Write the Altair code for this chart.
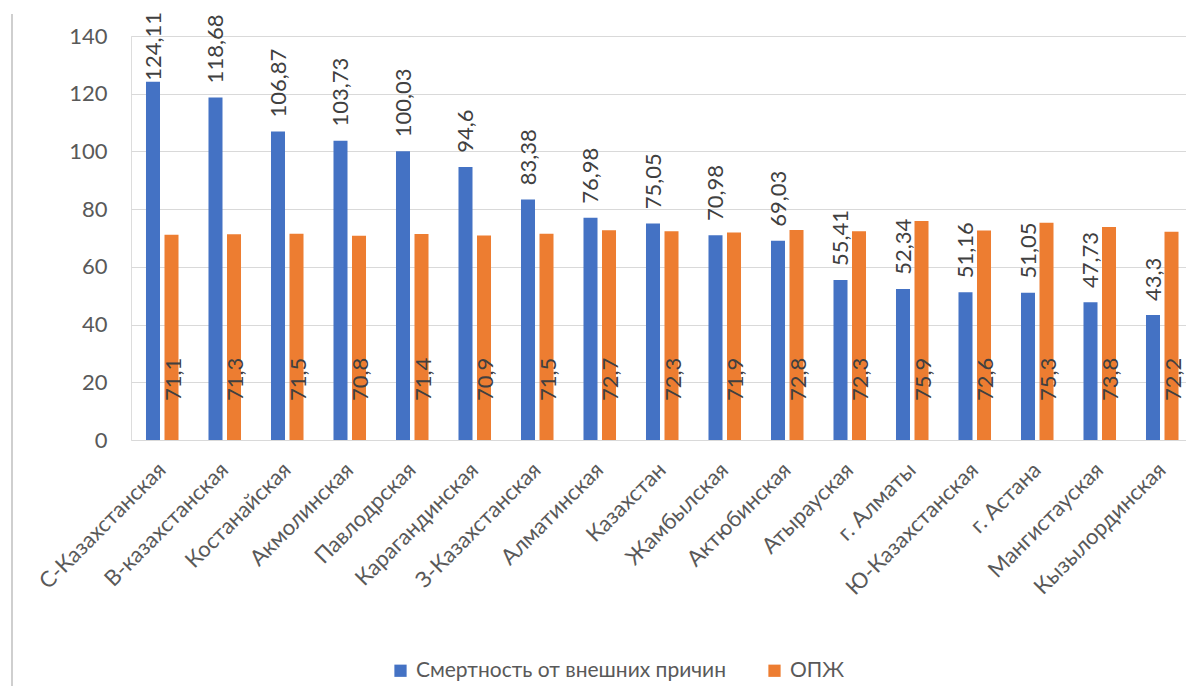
import altair as alt
import pandas as pd

regions = ["С-Казахстанская", "В-казахстанская", "Костанайская", "Акмолинская",
           "Павлодрская", "Карагандинская", "З-Казахстанская", "Алматинская",
           "Казахстан", "Жамбылская", "Актюбинская", "Атырауская", "г. Алматы",
           "Ю-Казахстанская", "г. Астана", "Мангистауская", "Кызылординская"]
mortality = [124.11, 118.68, 106.87, 103.73, 100.03, 94.6, 83.38, 76.98, 75.05,
             70.98, 69.03, 55.41, 52.34, 51.16, 51.05, 47.73, 43.3]
life_exp = [71.1, 71.3, 71.5, 70.8, 71.4, 70.9, 71.5, 72.7, 72.3, 71.9, 72.8,
            72.3, 75.9, 72.6, 75.3, 73.8, 72.2]
series_names = ["Смертность от внешних причин", "ОПЖ"]
series_colors = ["#4472C4", "#ED7D31"]
y_ticks = [0, 20, 40, 60, 80, 100, 120, 140]

FONT = "Lato"
rows = []
for r, m, l in zip(regions, mortality, life_exp):
    rows.append({"region": r, "series": series_names[0], "value": m,
                 "label": f"{m:g}".replace(".", ",")})
    rows.append({"region": r, "series": series_names[1], "value": l,
                 "label": f"{l:g}".replace(".", ",")})
df = pd.DataFrame(rows)
df_blue = df[df.series == series_names[0]]
df_orange = df[df.series == series_names[1]]

x_enc = alt.X("region:N", sort=regions,
              scale=alt.Scale(range=[0, 1062.5], paddingInner=0, paddingOuter=0),
              axis=alt.Axis(title=None, labelAngle=-45, labelAlign="right",
                            labelBaseline="middle", labelFont=FONT,
                            labelFontSize=22, labelColor="#595959",
                            labelPadding=26, ticks=False, domain=False,
                            labelLimit=400))
xo_enc = alt.XOffset("series:N",
                     scale=alt.Scale(domain=series_names, paddingInner=0.243,
                                     paddingOuter=0.81))
y_scale = alt.Scale(domain=[0, 140], nice=False)

bars = alt.Chart(df).mark_bar().encode(
    x=x_enc,
    xOffset=xo_enc,
    y=alt.Y("value:Q", scale=y_scale,
            axis=alt.Axis(title=None, values=y_ticks, labelFont=FONT,
                          labelFontSize=22, labelColor="#595959",
                          labelPadding=24, ticks=False, domain=False,
                          gridColor="#D9D9D9", gridWidth=1.2)),
    color=alt.Color("series:N",
                    scale=alt.Scale(domain=series_names, range=series_colors),
                    legend=alt.Legend(title=None, orient="none", legendX=259,
                                      legendY=624, direction="horizontal",
                                      symbolType="square", symbolSize=150,
                                      symbolStrokeWidth=0, labelFont=FONT,
                                      labelFontSize=21, labelColor="#595959",
                                      labelLimit=600,
                                      columnPadding=38, labelOffset=5)),
)

blue_text = alt.Chart(df_blue).transform_calculate(
    ly="min(datum.value + 4.9, 124.5)"
).mark_text(angle=270, align="left", baseline="middle", font=FONT,
            fontSize=22, color="#404040", dy=1).encode(
    x=alt.X("region:N", sort=regions),
    xOffset="series:N",
    y="ly:Q",
    text="label:N",
)

orange_text = alt.Chart(df_orange).mark_text(
    angle=270, align="left", baseline="middle", font=FONT, fontSize=22,
    color="#404040", dx=39, dy=2).encode(
    x=alt.X("region:N", sort=regions),
    xOffset="series:N",
    y=alt.datum(0),
    text="label:N",
)

border = alt.Chart(pd.DataFrame({"a": [0]})).mark_rule(
    color="#BFBFBF", strokeWidth=1.5).encode(
    x=alt.value(-119), y=alt.value(-22), y2=alt.value(650))

chart = alt.layer(bars, blue_text, orange_text, border).properties(
    width=1055, height=404,
    autosize=alt.AutoSizeParams(type="none"),
    padding={"left": 131, "top": 36, "right": 0, "bottom": 246},
).configure_view(stroke=None).configure(background="white")

chart.save("out.html", embed_options={"renderer": "svg", "actions": False})
